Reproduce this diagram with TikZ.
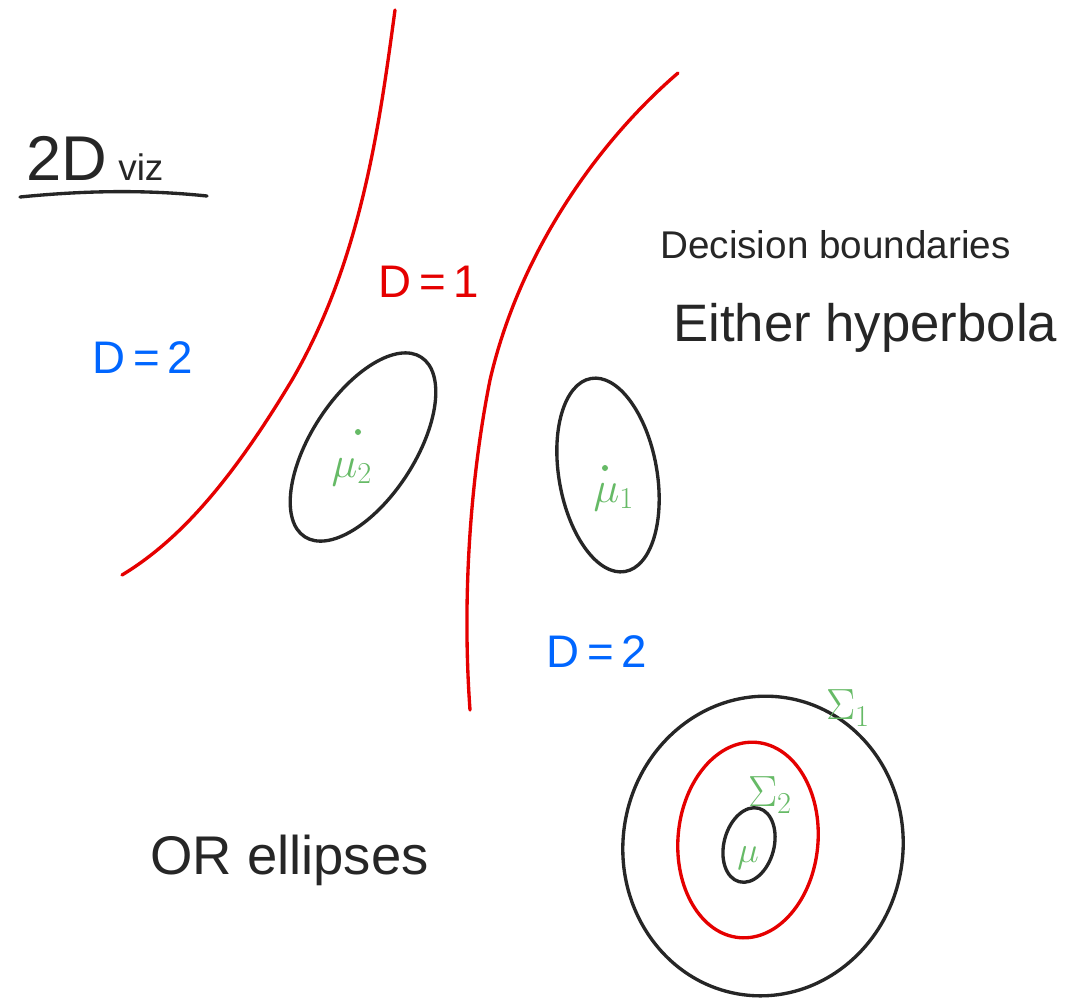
\documentclass[tikz,border=0pt]{standalone}
\usepackage{fontspec}
\setmainfont{Liberation Sans}
\begin{document}
\begin{tikzpicture}[x=0.02cm,y=-0.02cm,
  pen/.style={line width=1.9pt,line cap=round,line join=round},
  blk/.style={pen,draw=black!85},
  redc/.style={pen,draw=red!90!black},
  lbl/.style={inner sep=0pt,text=black!85},
  bluelbl/.style={inner sep=0pt,text=blue!60!cyan},
  redlbl/.style={inner sep=0pt,text=red!90!black},
  greenlbl/.style={inner sep=0pt,text=green!55!black!60!white}]
\fill[white] (0,0) rectangle (1084,998);
\useasboundingbox (0,0) rectangle (1084,998);
% title
\node[lbl,font=\fontsize{36}{38}\selectfont,anchor=base west] (t2d) at (26,180) {2D};
\node[lbl,font=\fontsize{21}{23}\selectfont,anchor=base west] (tviz) at (118,180) {viz};
\draw[blk] (20,197) .. controls (90,190) and (150,190) .. (207,196);
% decision boundaries (red)
\draw[redc] (395,10) .. controls (380,120) and (362,260) .. (292,380)
  .. controls (232,480) and (180,540) .. (122,575);
\draw[redc] (678,73) .. controls (600,140) and (520,250) .. (490,380)
  .. controls (470,480) and (462,600) .. (470,710);
% labels
\node[redlbl,font=\fontsize{26}{28}\selectfont] (d1) at (429,282) {D\,=\,1};
\node[bluelbl,font=\fontsize{26}{28}\selectfont] (d2a) at (143,358) {D\,=\,2};
\node[bluelbl,font=\fontsize{26}{28}\selectfont] (d2b) at (597,652) {D\,=\,2};
% class ellipses
\draw[blk,rotate around={57:(363,447)}] (363,447) ellipse [x radius=107,y radius=52];
\draw[blk,rotate around={-80:(608,475)}] (608,475) ellipse [x radius=98,y radius=49];
\fill[green!55!black!60!white] (358,432) circle (3);
\node[greenlbl,font=\fontsize{26}{28}\selectfont] (mu2) at (352,472) {$\mu_2$};
\fill[green!55!black!60!white] (605,468) circle (3);
\node[greenlbl,font=\fontsize{26}{28}\selectfont] (mu1) at (614,497) {$\mu_1$};
% concentric ellipses
\draw[blk,rotate around={-8:(763,846)}] (763,846) ellipse [x radius=140,y radius=150];
\draw[redc,rotate around={-5:(748,840)}] (748,840) ellipse [x radius=70,y radius=98];
\draw[blk,rotate around={-15:(749,845)}] (749,845) ellipse [x radius=25,y radius=38];
\node[greenlbl,font=\fontsize{26}{28}\selectfont] (s1) at (848,708) {$\Sigma_1$};
\node[greenlbl,font=\fontsize{24}{26}\selectfont] (s2) at (770,795) {$\Sigma_2$};
\node[greenlbl,font=\fontsize{22}{24}\selectfont] (mu) at (748,858) {$\mu$};
% text
\node[lbl,font=\fontsize{22}{24}\selectfont,anchor=west] (db) at (660,245) {Decision boundaries};
\node[lbl,font=\fontsize{30}{32}\selectfont,anchor=west] (eh) at (673,328) {Either hyperbola};
\node[lbl,font=\fontsize{31}{33}\selectfont,anchor=west] (ore) at (150,860) {OR ellipses};
\end{tikzpicture}
\end{document}
